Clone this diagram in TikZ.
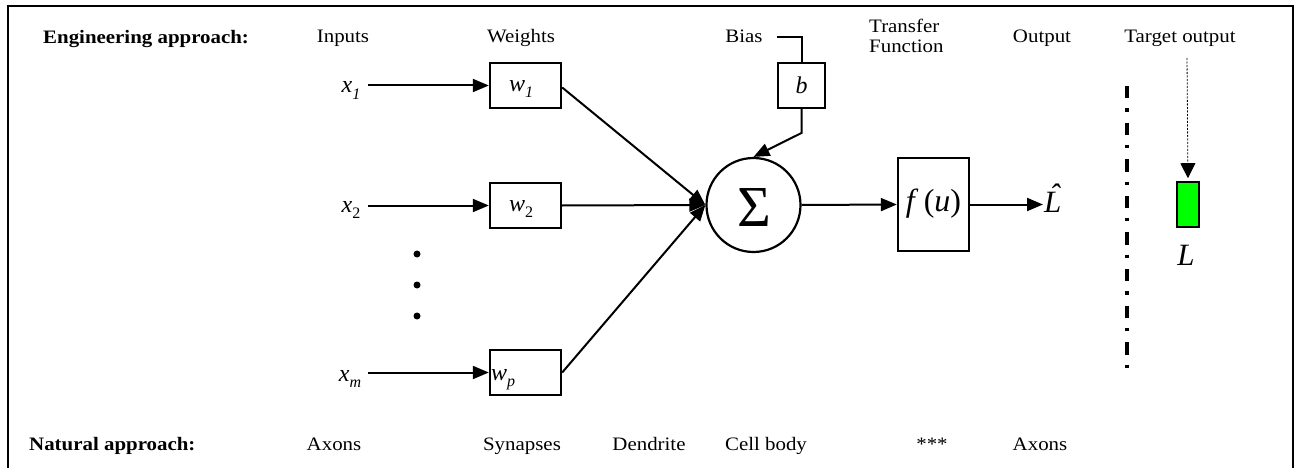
\documentclass[tikz,border=0pt]{standalone}
\usepackage{fontspec}
\setmainfont{Liberation Serif}[FakeStretch=1.1]
\newfontfamily\symfont{Liberation Serif}
\usetikzlibrary{arrows.meta}

% italic symbol with a subscript
\newcommand{\symsub}[2]{\textit{#1}\raisebox{-0.28em}{\fontsize{16}{16}\selectfont #2}}

\tikzset{
  lbl/.style={font=\fontsize{19}{22}\selectfont, inner sep=0pt, anchor=base},
  boldlbl/.style={font=\bfseries\fontsize{19}{22}\selectfont, inner sep=0pt, anchor=base west},
  sym/.style={font=\symfont\fontsize{24}{28}\selectfont, inner sep=0pt},
  wbox/.style={draw, line width=2.4pt, minimum width=71pt, minimum height=45pt, inner sep=0pt},
  wire/.style={line width=2pt},
  conn/.style={line width=2pt, -{Triangle[length=16pt,width=13pt]}},
  dotcirc/.style={circle, fill=black, inner sep=0pt, minimum size=7pt},
}

\begin{document}
\begin{tikzpicture}[x=1pt,y=-1pt]
\useasboundingbox (0,0) rectangle (1298,468);
% outer frame
\draw[line width=2.2pt] (8,6) rectangle (1293,472);

% header row
\node[boldlbl] (eng) at (43,44) {Engineering approach:};
\node[lbl] (inputs) at (343,43) {Inputs};
\node[lbl] (weights) at (521,43) {Weights};
\node[lbl] (bias) at (744,43) {Bias};
\node[lbl, anchor=base west] (transfer) at (869,33) {Transfer};
\node[lbl, anchor=base west] (function) at (869,53) {Function};
\node[lbl] (output) at (1042,43) {Output};
\node[lbl] (target) at (1180,43) {Target output};

% footer row
\node[boldlbl] (nat) at (29,450) {Natural approach:};
\node[lbl] (axons1) at (334,450) {Axons};
\node[lbl] (syn) at (522,450) {Synapses};
\node[lbl] (dend) at (649,450) {Dendrite};
\node[lbl] (cell) at (766,450) {Cell body};
\node[lbl] (stars) at (932,450) {***};
\node[lbl] (axons2) at (1040,450) {Axons};

% inputs
\node[sym, anchor=base] (x1) at (351,93) {\symsub{x}{\textit{1}}};
\node[sym, anchor=base] (x2) at (351,212) {\symsub{x}{2}};
\node[sym, anchor=base] (xm) at (350,381) {\symsub{x}{\textit{m}}};

% weights
\node[wbox] (w1) at (525.5,85.5) {};
\node[sym] (w1l) at (521,89) {\symsub{w}{\textit{1}}};
\node[wbox] (w2) at (525.5,205.5) {};
\node[sym] (w2l) at (521,209) {\symsub{w}{2}};
\node[wbox] (wp) at (525.5,372.5) {};
\node[sym, anchor=base west] (wpl) at (491,380) {\symsub{w}{\textit{p}}};

% ellipsis dots
\node[dotcirc] (d1) at (417,254) {};
\node[dotcirc] (d2) at (417,285) {};
\node[dotcirc] (d3) at (417,316) {};

% summing junction
\node[draw, circle, line width=2.2pt, minimum size=94pt, inner sep=0pt] (sig) at (753.5,205) {};
\node[inner sep=0pt, font=\symfont\fontsize{58}{58}\selectfont] (sigl) at (754,208) {Σ};

% bias
\node[draw, line width=1.6pt, minimum width=47pt, minimum height=45pt, inner sep=0pt] (b) at (801.5,85.5) {};
\node[sym] (bl) at (801.5,85.5) {\textit{b}};
\coordinate (bstart) at ([xshift=14pt]bias.east);
\coordinate (bbend) at (801.5,133);

% transfer function
\node[draw, line width=2.4pt, minimum width=71pt, minimum height=93pt, inner sep=0pt] (f) at (933.5,204.5) {};
\node[inner sep=0pt, font=\symfont\fontsize{32}{32}\selectfont] (fl) at (933.5,204) {\textit{f}\,(\textit{u})};

% network output
\node[inner sep=0pt, anchor=base west, font=\symfont\itshape\fontsize{31}{31}\selectfont] (lhat) at (1044,212) {\accent"02C6 L};

% target output
\node[draw, line width=1.6pt, fill={rgb,255:red,0;green,255;blue,0}, minimum width=22pt, minimum height=45pt, inner sep=0pt] (green) at (1188,204.5) {};
\node[inner sep=0pt, anchor=base, font=\symfont\itshape\fontsize{31}{31}\selectfont] (ltgt) at (1186,265) {L};
\coordinate (tstart) at (1187,58);

% separator
\coordinate (sepa) at (1127,86);
\coordinate (sepb) at (1127,372);

% input line starts
\coordinate (s1) at (368,85.5);
\coordinate (s2) at (368,205.5);
\coordinate (sm) at (368,372.5);

% connectors
\draw[conn] (s1) -- (w1.west);
\draw[conn] (s2) -- (w2.west);
\draw[conn] (sm) -- (wp.west);
\draw[conn] ([yshift=-2pt]w1.east) -- (sig.west);
\draw[conn] (w2.east) -- (sig.west);
\draw[conn] (wp.east) -- (sig.west);
\draw[wire] (bstart) -| (b.north);
\draw[conn] (b.south) -- (bbend) -- (sig.north);
\draw[conn] (sig.east) -- (f.west);
\draw[conn] (f.east) -- ([xshift=-1pt]lhat.west |- f.east);
\draw[line width=0.8pt, dash pattern=on 2pt off 1.5pt, -{Triangle[length=15pt,width=15pt]}, shorten >=3pt] (tstart) -- (green.north);
\draw[line width=3.3pt, dash pattern=on 12.3pt off 10pt on 3.3pt off 11pt] (sepa) -- (sepb);
\end{tikzpicture}
\end{document}
